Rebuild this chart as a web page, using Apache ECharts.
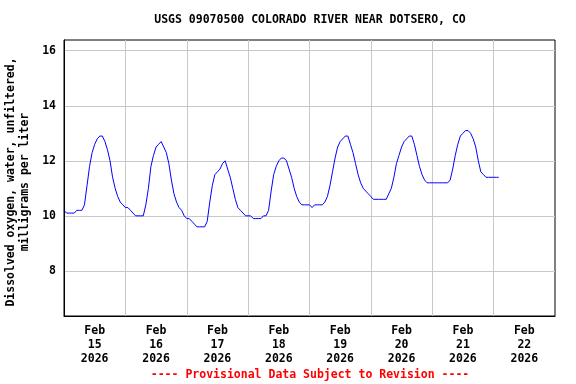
<!DOCTYPE html>
<html>
<head>
<meta charset="utf-8">
<script src="https://cdn.jsdelivr.net/npm/echarts@6/dist/echarts.min.js"></script>
<style>html,body{margin:0;padding:0;background:#fff;}#c{width:576px;height:384px;}</style>
</head>
<body>
<div id="c"></div>
<script>
// Hourly dissolved oxygen (mg/L), hour 0..23 of each day
const feb15 = [10.2,10.1,10.1,10.1,10.1,10.2,10.2,10.2,10.4,11.1,11.8,12.3,12.6,12.8,12.9,12.9,12.7,12.4,12.0,11.4,11.0,10.7,10.5,10.4];
const feb16 = [10.3,10.3,10.2,10.1,10.0,10.0,10.0,10.0,10.4,11.0,11.8,12.2,12.5,12.6,12.7,12.5,12.3,11.9,11.3,10.8,10.5,10.3,10.2,10.0];
const feb17 = [9.9,9.9,9.8,9.7,9.6,9.6,9.6,9.6,9.8,10.5,11.1,11.5,11.6,11.7,11.9,12.0,11.7,11.4,11.0,10.6,10.3,10.2,10.1,10.0];
const feb18 = [10.0,10.0,9.9,9.9,9.9,9.9,10.0,10.0,10.2,10.9,11.5,11.8,12.0,12.1,12.1,12.0,11.7,11.4,11.0,10.7,10.5,10.4,10.4,10.4];
const feb19 = [10.4,10.3,10.4,10.4,10.4,10.4,10.5,10.7,11.1,11.6,12.1,12.5,12.7,12.8,12.9,12.9,12.6,12.3,11.9,11.5,11.2,11.0,10.9,10.8];
const feb20 = [10.7,10.6,10.6,10.6,10.6,10.6,10.6,10.8,11.0,11.4,11.9,12.2,12.5,12.7,12.8,12.9,12.9,12.6,12.2,11.8,11.5,11.3,11.2,11.2];
const feb21 = [11.2,11.2,11.2,11.2,11.2,11.2,11.2,11.3,11.7,12.2,12.6,12.9,13.0,13.1,13.1,13.0,12.8,12.5,12.0,11.6,11.5,11.4,11.4,11.4];
const feb22 = [11.4,11.4,11.4];
const days = [feb15, feb16, feb17, feb18, feb19, feb20, feb21, feb22];

const dayLabels = ['15','16','17','18','19','20','21','22'];
const monthLabel = 'Feb';
const yearLabel = '2026';
const yTicks = [8,10,12,14,16];

const titleText = 'USGS 09070500 COLORADO RIVER NEAR DOTSERO, CO';
const yName1 = 'Dissolved oxygen, water, unfiltered,';
const yName2 = 'milligrams per liter';
const footerText = '---- Provisional Data Subject to Revision ----';

const data = [];
days.forEach((arr, d) => arr.forEach((v, h) => data.push([d * 24 + h, v])));

const FONT = 'DejaVu Sans Mono';
const FS = 11.5;

const chart = echarts.init(document.getElementById('c'), null, {renderer: 'canvas'});
chart.setOption({
  animation: false,
  backgroundColor: '#fff',
  grid: {left: 64, right: 21, top: 40, bottom: 68, show: true, borderColor: '#000', borderWidth: 1, backgroundColor: 'transparent'},
  xAxis: [
    {
      type: 'value', min: 0, max: 192, interval: 24, position: 'bottom',
      axisLine: {show: true, lineStyle: {color: '#000', width: 1}},
      axisTick: {show: false}, axisLabel: {show: false},
      splitLine: {show: true, showMinLine: false, showMaxLine: false, lineStyle: {color: '#c8c8c8', width: 1}}
    },
    {
      type: 'value', min: 0, max: 192, interval: 12, position: 'bottom',
      axisLine: {show: false}, axisTick: {show: false}, splitLine: {show: false},
      axisLabel: {
        show: true, margin: 8, lineHeight: 14, fontFamily: FONT, fontSize: FS, fontWeight: 'bold', color: '#000',
        formatter: v => (v % 24 === 12) ? monthLabel + '\n' + dayLabels[(v - 12) / 24] + '\n' + yearLabel : ''
      }
    }
  ],
  yAxis: {
    type: 'value', min: 6.36, max: 16.39, splitNumber: 5,
    axisLine: {show: true, lineStyle: {color: '#000', width: 1}},
    axisTick: {show: false},
    axisLabel: {
      margin: 8, fontFamily: FONT, fontSize: FS, fontWeight: 'bold', color: '#000',
      showMinLabel: false, showMaxLabel: false,
      formatter: v => yTicks.indexOf(v) >= 0 ? String(v) : ''
    },
    splitLine: {show: true, showMinLine: false, showMaxLine: false, lineStyle: {color: '#c8c8c8', width: 1}}
  },
  series: [{
    type: 'line', xAxisIndex: 0, data: data, showSymbol: false, symbol: 'none',
    lineStyle: {color: '#0000ff', width: 1}, z: 3
  }],
  graphic: [
    {type: 'text', x: 310, y: 20, style: {text: titleText, font: 'bold ' + FS + 'px "' + FONT + '"', fill: '#000', align: 'center', verticalAlign: 'middle'}},
    {type: 'text', x: 310, y: 375, style: {text: footerText, font: 'bold ' + FS + 'px "' + FONT + '"', fill: '#ff0000', align: 'center', verticalAlign: 'middle'}},
    {type: 'text', x: 18, y: 182, rotation: Math.PI / 2, style: {text: yName1 + '\n' + yName2, font: 'bold ' + FS + 'px "' + FONT + '"', lineHeight: 14, fill: '#000', align: 'center', verticalAlign: 'middle'}}
  ]
});
</script>
</body>
</html>
